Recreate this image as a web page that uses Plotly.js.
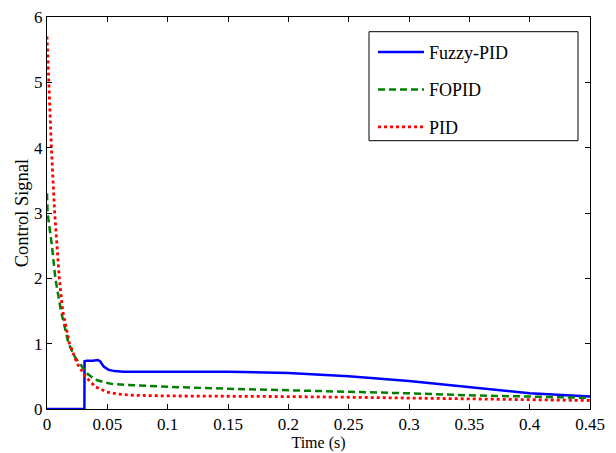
<!DOCTYPE html>
<html>
<head>
<meta charset="utf-8">
<script src="https://cdn.plot.ly/plotly-3.0.1.min.js"></script>
<style>html,body{margin:0;padding:0;background:#fff;}#chart{width:616px;height:453px;}</style>
</head>
<body>
<div id="chart"></div>
<script>
// Fuzzy-PID
const fuzzyT = [0, 0.031, 0.0311, 0.033, 0.038, 0.042, 0.044, 0.047, 0.051, 0.056, 0.063, 0.075, 0.08, 0.1, 0.15, 0.2, 0.25, 0.3, 0.35, 0.4, 0.45];
const fuzzyY = [0, 0, 0.73, 0.74, 0.74, 0.75, 0.73, 0.65, 0.6, 0.58, 0.57, 0.57, 0.58, 0.58, 0.57, 0.55, 0.5, 0.43, 0.33, 0.24, 0.19];
// FOPID
const fopidT = [0, 0.0005, 0.0027, 0.0041, 0.0069, 0.0116, 0.0179, 0.023, 0.029, 0.034, 0.040, 0.047, 0.055, 0.075, 0.1, 0.15, 0.2, 0.25, 0.3, 0.35, 0.4, 0.45];
const fopidY = [3.3, 3.0, 2.69, 2.5, 2.0, 1.5, 1.0, 0.8, 0.65, 0.53, 0.45, 0.41, 0.38, 0.36, 0.34, 0.31, 0.29, 0.26, 0.24, 0.21, 0.19, 0.17];
// PID
const pidT = [0, 0.0014, 0.0036, 0.0063, 0.0083, 0.0102, 0.013, 0.0187, 0.0249, 0.0317, 0.040, 0.0497, 0.058, 0.072, 0.1, 0.15, 0.2, 0.25, 0.3, 0.35, 0.4, 0.45];
const pidY = [5.70, 5.01, 4.02, 3.02, 2.5, 2.0, 1.5, 1.0, 0.70, 0.50, 0.34, 0.26, 0.23, 0.21, 0.2, 0.2, 0.19, 0.18, 0.17, 0.15, 0.14, 0.13];

const seriesNames = ['Fuzzy-PID', 'FOPID', 'PID'];
const xTicks = [0, 0.05, 0.1, 0.15, 0.2, 0.25, 0.3, 0.35, 0.4, 0.45];
const xTickLabels = ['0', '0.05', '0.1', '0.15', '0.2', '0.25', '0.3', '0.35', '0.4', '0.45'];
const yTicks = [0, 1, 2, 3, 4, 5, 6];

const serif = '"Liberation Serif", "Times New Roman", serif';

const traces = [
  {x: fuzzyT, y: fuzzyY, name: seriesNames[0], legendgroup: 'a', mode: 'lines',
   line: {color: '#0000ff', width: 2.5}},
  {x: fopidT, y: fopidY, name: seriesNames[1], legendgroup: 'b', mode: 'lines',
   line: {color: '#008000', width: 2.5, dash: '7px,4px'}},
  {x: pidT, y: pidY, name: seriesNames[2], legendgroup: 'c', mode: 'lines',
   line: {color: '#ff0000', width: 2.8, dash: 'dot'}}
];

const axisCommon = {
  showline: true, linecolor: '#000', linewidth: 1, mirror: 'ticks',
  ticks: 'inside', ticklen: 5, tickcolor: '#000', tickwidth: 1,
  showgrid: false, zeroline: false,
  tickfont: {family: serif, size: 17, color: '#000'}
};

const layout = {
  width: 616, height: 453,
  margin: {l: 47, r: 26, t: 17, b: 44},
  paper_bgcolor: '#fff', plot_bgcolor: '#fff',
  showlegend: true,
  xaxis: Object.assign({}, axisCommon, {
    range: [0, 0.45], tickvals: xTicks, ticktext: xTickLabels,
    title: {text: 'Time (s)', font: {family: serif, size: 16, color: '#000'}, standoff: 1}
  }),
  yaxis: Object.assign({}, axisCommon, {
    range: [0, 6], tickvals: yTicks,
    title: {text: 'Control Signal', font: {family: serif, size: 18.5, color: '#000'}, standoff: 0}
  }),
  legend: {
    x: (373 - 47) / 543, y: 0.957, xanchor: 'left', yanchor: 'top',
    bgcolor: 'rgba(0,0,0,0)', borderwidth: 0,
    itemwidth: 46,
    font: {family: serif, size: 18, color: '#000'},
    traceorder: 'grouped', tracegroupgap: 11
  },
  shapes: [{
    type: 'rect', xref: 'paper', yref: 'paper',
    x0: (369 - 47) / 543, x1: (578 - 47) / 543,
    y0: (409 - 140.7) / 392, y1: (409 - 31.7) / 392,
    line: {color: '#000', width: 1}, fillcolor: 'rgba(0,0,0,0)', layer: 'above'
  }]
};

Plotly.newPlot('chart', traces, layout, {displayModeBar: false, staticPlot: true});
</script>
</body>
</html>
